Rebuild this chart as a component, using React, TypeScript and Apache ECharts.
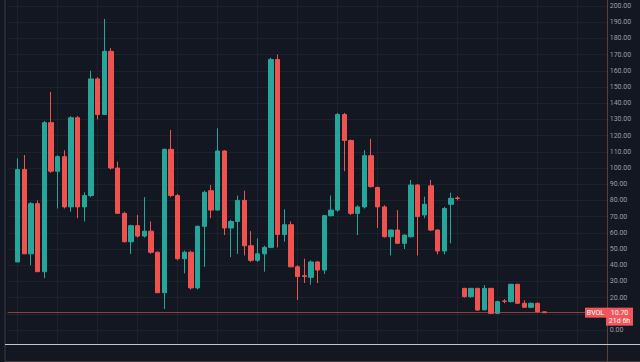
import React, { useEffect, useRef } from "react";
import * as echarts from "echarts";

const opens = [42,99,47,78,36,128,98,107,76,131,76,83,155,133,172,100,72,54.5,64.4,58,61,48,23,111.5,83,44,48,26,64,86,74,110.5,63,67,80,52,43,47,51,167,59,65,39,33.5,32.5,42,37,70.6,74,133,117,72,76,107.6,88,76,57.6,61.7,53.5,57.6,89.5,71,89,61.7,48.8,77.6,81.5,25.7,20.6,25.7,12.5,25.7,10.3,17.9,17.5,28.2,16.5,14,16.5,11.2];
const closes = [99,47,78,36,128,98,107,76,131,76,83,155,133,172,100,72,54.5,64.4,58,61,48,23,111.5,83,44,48,26,64,85,74,110.5,63,67,80,52,43,47,51,167,59,65,39,33,33,42,37,70.6,74,133,117,72,76,107.6,88.5,76,57.6,61.7,53.5,58.6,89.5,70,77.6,61.7,48.8,75,81.3,81.2,20.6,25.7,12.3,25.7,10.3,17.5,17.7,28.2,16.5,14,16.5,11.3,10.7];
const lows = [42,47,40,36,32,97,75,75,73,69,67,82,130,133,99,72,54,47,57,57,47,23,13,82,43,35,25,25,39,69,74,58.6,45,47,46,42,42,36,51,51,54.5,39,18.5,29,28,29,34.6,70,73,98,71,58.6,75,88,63,57,46,53,50,57,46,69,61,46.7,46.7,53.5,80,20,20,12,12,10,10,16.5,17,16,14,13.5,11,10.5];
const highs = [106,108,79,80,129,147,108,111,132,132,85,160,156,192,174,104,73,65,71,82,67,48.5,112,123.5,84,49,49,64.5,86,89.5,124.5,111,68,83,86,61,56.6,52,168,170,74.5,67,40,44,43,42.5,71,83,134,134,117.5,77,111,118,88.5,77,62,74,59,92.6,90,82.3,92.6,62,76,84.8,82.5,26,26,26,27.8,26,18,19,28.5,28.5,18.3,17,17,11.5];

const symbolName = "BVOL";
const lastValueText = "10.70";
const countdownText = "21d 6h";
const yMin = 0;
const yMax = 200;
const yInterval = 10;
const leadPad = 1;
const trailPad = 9;

const UP = "#26a69a";
const DOWN = "#ef5350";
const BG = "#131722";

export default function App() {
  const ref = useRef<HTMLDivElement>(null);

  useEffect(() => {
    if (!ref.current) return;
    const chart = echarts.init(ref.current, undefined, { renderer: "svg" });
    const total = leadPad + opens.length + trailPad;
    const categories = Array.from({ length: total }, (_, i) => String(i));
    const data: any[] = [];
    for (let i = 0; i < leadPad; i++) data.push("-");
    for (let i = 0; i < opens.length; i++) data.push([opens[i], closes[i], lows[i], highs[i]]);
    for (let i = 0; i < trailPad; i++) data.push("-");
    const lastClose = closes[closes.length - 1];

    chart.setOption({
      animation: false,
      backgroundColor: BG,
      grid: [
        { left: 7.7, right: 32.3, top: 6, bottom: 32 },
        { left: 17.7, right: 32.3, top: 0, bottom: 18 },
      ],
      xAxis: [
        {
          type: "category",
          data: categories,
          gridIndex: 0,
          boundaryGap: true,
          axisLine: { show: false },
          axisTick: { show: false },
          axisLabel: { show: false },
          splitLine: { show: false },
        },
        {
          type: "value",
          gridIndex: 1,
          min: 0,
          max: 88.5,
          interval: 6,
          axisLine: { show: false },
          axisTick: { show: false },
          axisLabel: { show: false },
          splitLine: { show: true, lineStyle: { color: "#1d212c", width: 1 } },
        },
      ],
      yAxis: [
        {
          type: "value",
          gridIndex: 0,
          position: "right",
          min: yMin,
          max: yMax,
          interval: yInterval,
          axisLine: { show: false },
          axisTick: { show: false },
          axisLabel: {
            color: "#9a9da6",
            fontSize: 7,
            fontFamily: "Roboto",
            margin: 2,
            formatter: (v: number) => v.toFixed(2),
          },
          splitLine: { show: true, lineStyle: { color: "#1d212c", width: 1 } },
        },
        { type: "value", gridIndex: 1, show: false },
      ],
      series: [
        {
          type: "candlestick",
          xAxisIndex: 0,
          yAxisIndex: 0,
          data,
          barWidth: 4.8,
          itemStyle: {
            color: UP,
            color0: DOWN,
            borderColor: UP,
            borderColor0: DOWN,
            borderWidth: 1,
          },
          markLine: {
            silent: true,
            symbol: ["none", "none"],
            label: { show: false },
            lineStyle: { color: DOWN, width: 1, type: "solid", opacity: 0.6 },
            data: [{ yAxis: lastClose }],
          },
        },
      ],
    });

    const yLast = chart.convertToPixel({ yAxisIndex: 0 }, lastClose) as number;
    chart.setOption({
      graphic: [
        { type: "line", shape: { x1: 5, y1: 0, x2: 5, y2: 362 }, style: { stroke: "#3a3e4a", lineWidth: 1 }, z: 10 },
        { type: "line", shape: { x1: 607.5, y1: 0, x2: 607.5, y2: 362 }, style: { stroke: "#5a4038", lineWidth: 1 }, z: 10 },
        { type: "line", shape: { x1: 5, y1: 344.5, x2: 640, y2: 344.5 }, style: { stroke: "#c3c6ce", lineWidth: 1 }, z: 10 },
        { type: "line", shape: { x1: 5, y1: 361.5, x2: 640, y2: 361.5 }, style: { stroke: "#4a3a36", lineWidth: 1 }, z: 10 },
        { type: "rect", shape: { x: 585, y: yLast - 5, width: 21, height: 10 }, style: { fill: "#f0565a" }, z: 20 },
        {
          type: "text",
          x: 595.5,
          y: yLast,
          style: { text: symbolName, fill: "#ffffff", fontSize: 7, fontFamily: "Roboto", align: "center", verticalAlign: "middle" },
          z: 21,
        },
        { type: "rect", shape: { x: 606, y: yLast - 5, width: 27, height: 18 }, style: { fill: "#f0565a" }, z: 20 },
        {
          type: "text",
          x: 619.5,
          y: yLast,
          style: { text: lastValueText, fill: "#ffffff", fontSize: 7, fontFamily: "Roboto", align: "center", verticalAlign: "middle" },
          z: 21,
        },
        {
          type: "text",
          x: 619.5,
          y: yLast + 8,
          style: { text: countdownText, fill: "#ffffff", fontSize: 7, fontFamily: "Roboto", align: "center", verticalAlign: "middle" },
          z: 21,
        },
      ],
    });

    return () => chart.dispose();
  }, []);

  return (
    <div
      ref={ref}
      style={{ position: "fixed", left: 0, top: 0, width: 640, height: 362, background: BG }}
    />
  );
}
